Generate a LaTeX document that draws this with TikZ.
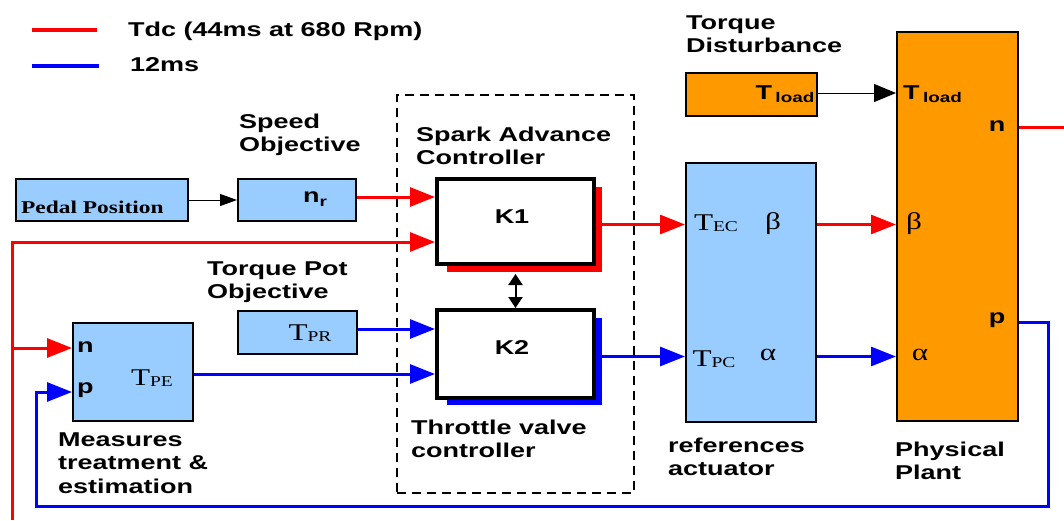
\documentclass[tikz,border=0pt]{standalone}
\usepackage{fontspec}
\usetikzlibrary{arrows.meta,calc}
\newfontfamily\sfw[FakeStretch=1.35]{Liberation Sans}
\newfontfamily\sew[FakeStretch=1.3]{Liberation Serif}
\definecolor{lblue}{HTML}{99CCFF}
\definecolor{orng}{HTML}{FF9900}
\definecolor{rd}{HTML}{FF0000}
\definecolor{bl}{HTML}{0000FF}
\begin{document}
\begin{tikzpicture}[x=1pt,y=-1pt,
  box/.style={draw=black,line width=2pt,inner sep=0pt,rectangle},
  bbox/.style={box,fill=lblue},
  obox/.style={box,fill=orng},
  kbox/.style={draw=black,line width=4pt,fill=white,inner sep=0pt,rectangle},
  shad/.style={inner sep=0pt,outer sep=0pt,rectangle},
  lab/.style={inner sep=0pt,anchor=west,align=left,font=\sfw\bfseries\fontsize{20}{23.5}\selectfont},
  txt/.style={inner sep=0pt,font=\sfw\bfseries\fontsize{20}{24}\selectfont},
  sertxt/.style={inner sep=0pt,font=\sew\fontsize{24}{24}\selectfont},
  grk/.style={inner sep=0pt,font=\sew\fontsize{24}{24}\selectfont},
  redw/.style={draw=rd,line width=3pt},
  bluew/.style={draw=bl,line width=3pt},
  rarr/.style={redw,-{Triangle[length=25pt,width=19pt]}},
  barr/.style={bluew,-{Triangle[length=25pt,width=19pt]}},
]
\path[use as bounding box] (0,0) rectangle (1064,520);

% legend
\coordinate (lr1) at (32,30);
\coordinate (lr2) at (97,30);
\coordinate (lb1) at (32,66);
\coordinate (lb2) at (99,66);
\draw[draw=rd,line width=4pt] (lr1) -- (lr2);
\draw[draw=bl,line width=4pt] (lb1) -- (lb2);
\node[txt,anchor=west] (legr) at (128,31) {Tdc (44ms at 680 Rpm)};
\node[txt,anchor=west] (legb) at (130,65) {12ms};

% labels
\node[lab] (lspeed) at (239,135) {Speed\\Objective};
\node[lab] (lspark) at (416,146) {Spark Advance\\Controller};
\node[lab] (ltpot) at (207,282) {Torque Pot\\Objective};
\node[lab] (lmeas) at (58,463) {Measures\\treatment \&\\estimation};
\node[lab] (lthr) at (411,439) {Throttle valve\\controller};
\node[lab] (lref) at (668,457) {references\\actuator};
\node[lab] (lplant) at (895,461) {Physical\\Plant};
\node[lab] (ldist) at (686,34) {Torque\\Disturbance};

% controller frame
\node[draw=black,line width=2pt,dash pattern=on 9pt off 6pt,inner sep=0pt,minimum width=237,minimum height=398] (ctrl) at (515.5,294) {};

% boxes
\node[bbox,minimum width=172,minimum height=42] (pedal) at (102,200) {};
\node[inner sep=0pt,anchor=base west,font=\sew\bfseries\fontsize{18}{18}\selectfont] (pedtxt) at (21,213) {Pedal Position};

\node[bbox,minimum width=118,minimum height=42] (speed) at (297,200) {};
\node[txt] (nr) at (315,199) {n\raisebox{-4pt}{\fontsize{14}{14}\selectfont r}};

\node[bbox,minimum width=119,minimum height=43] (tpr) at (297.5,332.5) {};
\node[sertxt] (tprtxt) at (310,333) {T\raisebox{-1pt}{\fontsize{15}{15}\selectfont PR}};

\node[bbox,minimum width=120,minimum height=98] (meas) at (133,372) {};
\node[sertxt] (tpetxt) at (152,378) {T\raisebox{-1pt}{\fontsize{15}{15}\selectfont PE}};
\node[txt,anchor=west] (mn) at (77,347) {n};
\node[txt,anchor=west] (mp) at (77,390) {p};

% K blocks with shadows
\node[shad,fill=rd,minimum width=155,minimum height=85] (k1sh) at (524.5,229.5) {};
\node[kbox,minimum width=157,minimum height=85] (K1) at (515.5,221.5) {};
\node[txt] (k1t) at (512,217) {K1};
\node[shad,fill=bl,minimum width=155,minimum height=87] (k2sh) at (524.5,361.5) {};
\node[kbox,minimum width=157,minimum height=88] (K2) at (515.5,354) {};
\node[txt] (k2t) at (512,348) {K2};

% references actuator
\node[bbox,minimum width=130,minimum height=259] (ref) at (751,292.5) {};
\node[sertxt] (tec) at (716,223) {T\raisebox{-1pt}{\fontsize{15}{15}\selectfont EC}};
\node[grk] (rbeta) at (773,224) {β};
\node[sertxt] (tpc) at (714,359) {T\raisebox{-1pt}{\fontsize{15}{15}\selectfont PC}};
\node[grk] (ralpha) at (768,355) {α};

% torque disturbance
\node[obox,minimum width=131,minimum height=43] (tl) at (751.5,94.5) {};
\node[txt] (tltxt) at (785,94) {T\,\raisebox{-3pt}{\fontsize{14}{14}\selectfont load}};

% plant
\node[obox,minimum width=121,minimum height=389] (plant) at (957.5,226.5) {};
\node[txt,anchor=west] (ptl) at (903,94) {T\,\raisebox{-3pt}{\fontsize{14}{14}\selectfont load}};
\node[txt] (pn) at (997,126) {n};
\node[grk] (pbeta) at (914,224) {β};
\node[txt] (pp) at (997,320) {p};
\node[grk] (palpha) at (920,355) {α};

% routing coordinates
\coordinate (rA) at (0,197);
\coordinate (rB) at (0,242);
\coordinate (rE) at (0,224.5);
\coordinate (rC) at (0,329);
\coordinate (rD) at (0,374);
\coordinate (rF) at (0,356.5);
\coordinate (rN) at (0,127);
\coordinate (rP) at (0,322);
\coordinate (rL) at (0,93);
\coordinate (rMn) at (0,348);
\coordinate (rMp) at (0,392);
\coordinate (rBot) at (0,506);
\coordinate (fbbot) at (12,520);
\coordinate (cL) at (36,0);
\coordinate (cR) at (1048,0);
\coordinate (edgeR) at (1064,0);

% connectors
\draw[draw=black,line width=1pt,-{Triangle[length=17pt,width=12pt]}] (pedal.east) -- (speed.west);
\draw[rarr] (speed.east |- rA) -- (K1.west |- rA);
\draw[rarr] (fbbot) |- (K1.west |- rB);
\draw[rarr] (fbbot |- rMn) -- (meas.west |- rMn);
\draw[barr] (tpr.east |- rC) -- (K2.west |- rC);
\draw[barr] (meas.east |- rD) -- (K2.west |- rD);
\draw[rarr] (k1sh.east |- rE) -- (ref.west |- rE);
\draw[barr] (k2sh.east |- rF) -- (ref.west |- rF);
\draw[rarr] (ref.east |- rE) -- (plant.west |- rE);
\draw[barr] (ref.east |- rF) -- (plant.west |- rF);
\draw[draw=black,line width=1pt,-{Triangle[length=22pt,width=18pt]}] (tl.east |- rL) -- (plant.west |- rL);
\draw[redw] (plant.east |- rN) -- (edgeR |- rN);
\draw[barr] (plant.east |- rP) -- (cR |- rP) -- (cR |- rBot) -- (cL |- rBot) -- (cL |- rMp) -- (meas.west |- rMp);
\draw[draw=black,line width=2pt,{Triangle[length=11pt,width=14pt]}-{Triangle[length=11pt,width=14pt]}] ($(K1.south)+(0,8)$) -- (K2.north);
\end{tikzpicture}
\end{document}
